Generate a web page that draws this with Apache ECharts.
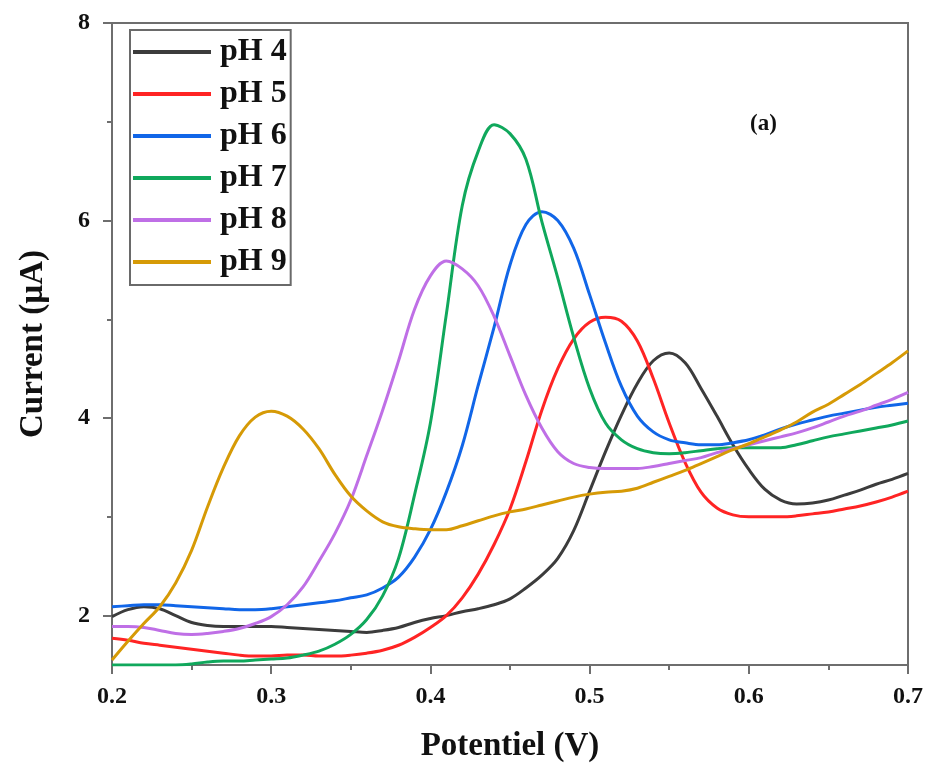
<!DOCTYPE html>
<html>
<head>
<meta charset="utf-8">
<script src="https://cdn.jsdelivr.net/npm/echarts@6/dist/echarts.min.js"></script>
<style>
  html, body { margin: 0; padding: 0; background: #fff; }
  #chart { width: 935px; height: 774px; }
</style>
</head>
<body>
<div id="chart"></div>
<script>
// Differential pulse voltammograms recorded at different pH values
const potentials = [
  0.20, 0.21, 0.22, 0.23, 0.24, 0.25, 0.26, 0.27, 0.28, 0.29,
  0.30, 0.31, 0.32, 0.33, 0.34, 0.35, 0.36, 0.37, 0.38, 0.39,
  0.40, 0.41, 0.42, 0.43, 0.44, 0.45, 0.46, 0.47, 0.48, 0.49,
  0.50, 0.51, 0.52, 0.53, 0.54, 0.55, 0.56, 0.57, 0.58, 0.59,
  0.60, 0.61, 0.62, 0.63, 0.64, 0.65, 0.66, 0.67, 0.68, 0.69, 0.70
];

const pH4 = [
  1.99, 2.06, 2.09, 2.07, 2.00, 1.93, 1.90, 1.89, 1.89, 1.89,
  1.89, 1.88, 1.87, 1.86, 1.85, 1.84, 1.83, 1.85, 1.88, 1.93,
  1.97, 2.00, 2.04, 2.07, 2.11, 2.17, 2.28, 2.41, 2.58, 2.86,
  3.26, 3.66, 4.03, 4.35, 4.58, 4.66, 4.56, 4.30, 4.02, 3.73,
  3.48, 3.28, 3.17, 3.13, 3.14, 3.17, 3.22, 3.27, 3.33, 3.38, 3.44
];

const pH5 = [
  1.77, 1.75, 1.72, 1.70, 1.68, 1.66, 1.64, 1.62, 1.60, 1.59,
  1.59, 1.60, 1.60, 1.59, 1.59, 1.60, 1.62, 1.65, 1.70, 1.78,
  1.88, 2.00, 2.18, 2.42, 2.72, 3.08, 3.56, 4.08, 4.50, 4.80,
  4.97, 5.02, 4.98, 4.78, 4.40, 3.95, 3.55, 3.25, 3.09, 3.02,
  3.00, 3.00, 3.00, 3.01, 3.03, 3.05, 3.08, 3.11, 3.15, 3.20, 3.26
];

const pH6 = [
  2.09, 2.10, 2.11, 2.11, 2.10, 2.09, 2.08, 2.07, 2.06, 2.06,
  2.07, 2.09, 2.11, 2.13, 2.15, 2.18, 2.21, 2.28, 2.39, 2.59,
  2.87, 3.25, 3.72, 4.33, 4.92, 5.55, 5.96, 6.09, 6.00, 5.72,
  5.25, 4.76, 4.32, 4.02, 3.86, 3.78, 3.75, 3.73, 3.73, 3.75,
  3.78, 3.83, 3.89, 3.94, 3.98, 4.02, 4.05, 4.08, 4.11, 4.13, 4.15
];

const pH7 = [
  1.50, 1.50, 1.50, 1.50, 1.50, 1.51, 1.53, 1.54, 1.54, 1.55,
  1.56, 1.57, 1.60, 1.64, 1.71, 1.81, 1.96, 2.20, 2.58, 3.22,
  3.95, 5.05, 6.15, 6.70, 6.97, 6.88, 6.62, 5.99, 5.42, 4.82,
  4.30, 3.95, 3.78, 3.69, 3.65, 3.64, 3.65, 3.67, 3.69, 3.70,
  3.70, 3.70, 3.70, 3.73, 3.77, 3.81, 3.84, 3.87, 3.90, 3.93, 3.97
];

const pH8 = [
  1.89, 1.89, 1.88, 1.85, 1.82, 1.81, 1.82, 1.84, 1.87, 1.92,
  1.99, 2.11, 2.29, 2.55, 2.83, 3.17, 3.62, 4.08, 4.58, 5.10,
  5.44, 5.59, 5.51, 5.34, 5.03, 4.63, 4.23, 3.90, 3.66, 3.54,
  3.50, 3.49, 3.49, 3.49, 3.51, 3.54, 3.57, 3.60, 3.65, 3.69,
  3.73, 3.77, 3.81, 3.85, 3.90, 3.96, 4.02, 4.07, 4.13, 4.19, 4.26
];

const pH9 = [
  1.55, 1.74, 1.92, 2.09, 2.33, 2.66, 3.10, 3.50, 3.82, 4.01,
  4.07, 4.02, 3.89, 3.69, 3.43, 3.21, 3.06, 2.95, 2.90, 2.88,
  2.87, 2.87, 2.91, 2.96, 3.01, 3.05, 3.08, 3.12, 3.16, 3.20,
  3.23, 3.25, 3.26, 3.29, 3.35, 3.41, 3.47, 3.54, 3.61, 3.68,
  3.74, 3.81, 3.88, 3.96, 4.06, 4.14, 4.24, 4.34, 4.45, 4.56, 4.68
];

const seriesNames = ['pH 4', 'pH 5', 'pH 6', 'pH 7', 'pH 8', 'pH 9'];
const seriesValues = [pH4, pH5, pH6, pH7, pH8, pH9];
const seriesColors = ['#3c3c3c', '#ff2424', '#1166e8', '#10a85c', '#bf6fe6', '#d69a06'];

const yMajorTicks = [2, 4, 6, 8];
const yMinorTicks = [3, 5, 7];

const serif = '"Liberation Serif", "DejaVu Serif", serif';
const axisGray = '#6e6e6e';

const chart = echarts.init(document.getElementById('chart'), null, { renderer: 'canvas' });

const series = seriesNames.map((name, i) => ({
  name: name,
  type: 'line',
  xAxisIndex: 0,
  yAxisIndex: 0,
  data: potentials.map((p, k) => [p, seriesValues[i][k]]),
  smooth: 0.35,
  symbol: 'none',
  clip: true,
  lineStyle: { color: seriesColors[i], width: 3 },
  itemStyle: { color: seriesColors[i] },
  emphasis: { disabled: true }
}));

chart.setOption({
  animation: false,
  backgroundColor: '#ffffff',
  grid: {
    left: 112, right: 27, top: 23, bottom: 109,
    show: true, borderColor: axisGray, borderWidth: 2, backgroundColor: 'transparent'
  },
  title: {
    text: '(a)',
    left: 745, top: 108,
    textStyle: { fontFamily: serif, fontWeight: 'bold', fontSize: 23, color: '#111' }
  },
  legend: {
    orient: 'vertical',
    left: 130, top: 30,
    padding: [6, 4, 7, 3],
    itemWidth: 78, itemHeight: 4, itemGap: 10,
    borderColor: '#6a6a6a', borderWidth: 2, borderRadius: 0,
    icon: 'rect',
    data: seriesNames,
    textStyle: {
      fontFamily: serif, fontWeight: 'bold', fontSize: 32, lineHeight: 32,
      color: '#111', padding: [0, 0, 0, 4]
    }
  },
  xAxis: {
    type: 'value',
    min: 0.2, max: 0.7, interval: 0.1,
    name: 'Potentiel (V)',
    nameLocation: 'middle', nameGap: 65,
    nameTextStyle: { fontFamily: serif, fontWeight: 'bold', fontSize: 33, color: '#111' },
    axisLine: { show: true, onZero: false, lineStyle: { color: axisGray, width: 2 } },
    axisTick: { show: true, inside: false, length: 9, lineStyle: { color: axisGray, width: 2 } },
    minorTick: { show: true, splitNumber: 2, length: 5, lineStyle: { color: axisGray, width: 2 } },
    splitLine: { show: false },
    axisLabel: {
      margin: 20,
      fontFamily: serif, fontWeight: 'bold', fontSize: 24, color: '#111',
      formatter: v => v.toFixed(1)
    }
  },
  yAxis: [
    {
      type: 'value',
      min: 1.5, max: 8,
      name: 'Current (µA)',
      nameLocation: 'middle', nameGap: 62,
      nameTextStyle: { fontFamily: serif, fontWeight: 'bold', fontSize: 33, color: '#111' },
      axisLine: { show: true, onZero: false, lineStyle: { color: axisGray, width: 2 } },
      axisTick: { show: true, inside: false, length: 9, customValues: yMajorTicks, lineStyle: { color: axisGray, width: 2 } },
      splitLine: { show: false },
      axisLabel: {
        margin: 22,
        customValues: yMajorTicks,
        fontFamily: serif, fontWeight: 'bold', fontSize: 24, color: '#111'
      }
    },
    {
      type: 'value',
      min: 1.5, max: 8,
      position: 'left',
      axisLine: { show: false, onZero: false },
      axisTick: { show: true, inside: false, length: 5, customValues: yMinorTicks, lineStyle: { color: axisGray, width: 2 } },
      axisLabel: { show: false },
      splitLine: { show: false }
    }
  ],
  series: series
});
</script>
</body>
</html>
